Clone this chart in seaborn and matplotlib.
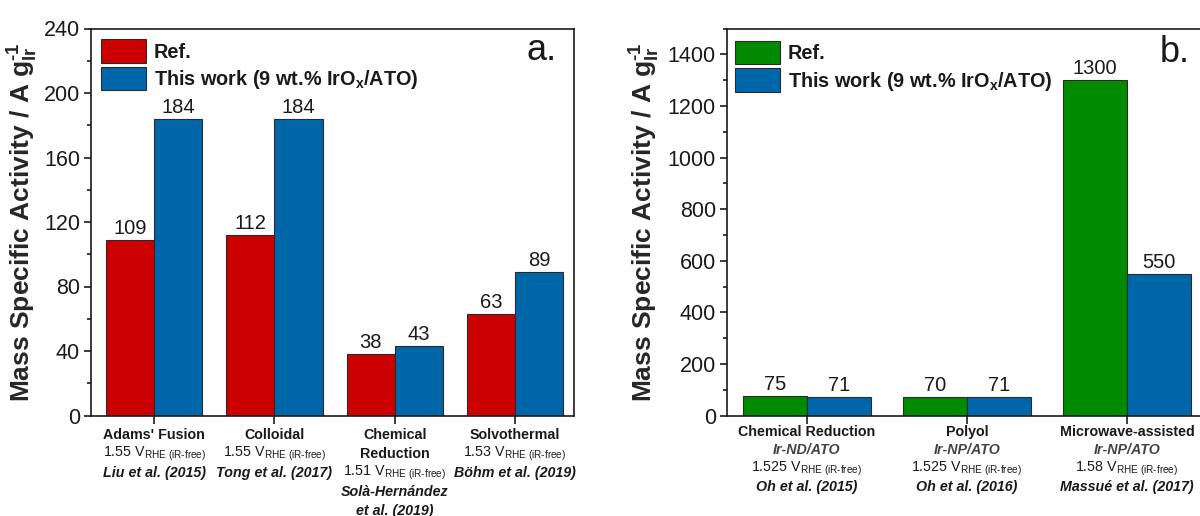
import matplotlib
matplotlib.use("Agg")
import matplotlib.pyplot as plt
import seaborn as sns
import pandas as pd
from matplotlib.patches import Patch
from matplotlib.ticker import MultipleLocator

# ---- panel a: synthesis routes compared with literature values ----
methods_a = ["Adams' Fusion", "Colloidal", "Chemical Reduction", "Solvothermal"]
method_lines_a = [["Adams' Fusion"], ["Colloidal"], ["Chemical", "Reduction"], ["Solvothermal"]]
potential_a = ["1.55", "1.55", "1.51", "1.53"]
authors_a = [["Liu et al. (2015)"], ["Tong et al. (2017)"],
             ["Solà-Hernández", "et al. (2019)"], ["Böhm et al. (2019)"]]
ref_a = [109, 112, 38, 63]
work_a = [184, 184, 43, 89]

# ---- panel b: ATO-supported iridium catalysts ----
methods_b = ["Chemical Reduction", "Polyol", "Microwave-assisted"]
catalysts_b = ["Ir-ND/ATO", "Ir-NP/ATO", "Ir-NP/ATO"]
potential_b = ["1.525", "1.525", "1.58"]
authors_b = ["Oh et al. (2015)", "Oh et al. (2016)", "Massué et al. (2017)"]
ref_b = [75, 70, 1300]
work_b = [71, 71, 550]

series = ["Ref.", "This work (9 wt.% IrO$_\\mathbf{x}$/ATO)"]
ylabel = "Mass Specific Activity / A g$_{\\mathbf{Ir}}^{\\mathbf{\u20101}}$"

RED, GREEN, BLUE = "#CC0000", "#008A00", "#0066AA"
EDGE = "#2a2a2a"
TXT = "#1a1a1a"

sns.set_style("ticks")
plt.rcParams["font.family"] = ["Liberation Sans", "DejaVu Sans"]
plt.rcParams["mathtext.fontset"] = "custom"
plt.rcParams["mathtext.rm"] = "Liberation Sans"
plt.rcParams["mathtext.it"] = "Liberation Sans:italic"
plt.rcParams["mathtext.bf"] = "Liberation Sans:bold"
plt.rcParams["axes.edgecolor"] = TXT
plt.rcParams["text.color"] = TXT


def long_table(methods, ref, work):
    return pd.DataFrame({
        "method": methods * 2,
        "activity": ref + work,
        "series": [series[0]] * len(methods) + [series[1]] * len(methods),
    })


def style_axes(ax, major, minor, top):
    ax.set_ylim(0, top)
    ax.yaxis.set_major_locator(MultipleLocator(major))
    ax.yaxis.set_minor_locator(MultipleLocator(minor))
    ax.tick_params(axis="y", which="major", direction="out", length=5, width=1.2,
                   labelsize=15.5, pad=3, colors=TXT)
    ax.tick_params(axis="y", which="minor", direction="out", length=2.6, width=1.2, colors=TXT)
    ax.tick_params(axis="x", which="major", direction="out", length=5.4, width=1.2,
                   labelbottom=False, colors=TXT)
    ax.tick_params(axis="x", which="minor", bottom=False)
    for s in ax.spines.values():
        s.set_visible(True)
        s.set_linewidth(1.2)
    ax.set_xlabel("")
    ax.set_ylabel(ylabel, fontsize=19, fontweight="bold")


def category_labels(ax, blocks, first_px, step_px):
    for i, block in enumerate(blocks):
        y = first_px
        for text, kw in block:
            ax.annotate(text, xy=(i, 0), xycoords=("data", "axes fraction"),
                        xytext=(0, -y * 0.72), textcoords="offset points",
                        ha="center", va="center", fontsize=10.3, **kw)
            y += step_px


def volt(v):
    return v + " V$_{\\mathregular{RHE\\ (iR\u2010free)}}$"


def legend(ax, color, anchor):
    ax.legend(handles=[Patch(facecolor=color, edgecolor=EDGE, linewidth=0.8, label=series[0]),
                       Patch(facecolor=BLUE, edgecolor=EDGE, linewidth=0.8, label=series[1])],
              loc="upper left", bbox_to_anchor=anchor, frameon=False,
              borderpad=0, borderaxespad=0, handlelength=2.25, handleheight=1.42,
              labelspacing=0.2, handletextpad=0.4,
              prop={"weight": "bold", "size": 14.3})


fig = plt.figure(figsize=(12, 5.16), dpi=100)
bottom, height = 1 - 415.5 / 516, 387 / 516
ax1 = fig.add_axes([91 / 1200, bottom, 483 / 1200, height])
ax2 = fig.add_axes([727 / 1200, bottom, 480 / 1200, height])

# panel a
sns.barplot(data=long_table(methods_a, ref_a, work_a), x="method", y="activity",
            hue="series", order=methods_a, hue_order=series, palette=[RED, BLUE],
            edgecolor=EDGE, linewidth=0.8, saturation=1, legend=False, ax=ax1)
ax1.set_xlim(-0.525, 3.49)
style_axes(ax1, 40, 20, 240)
for cont in ax1.containers:
    ax1.bar_label(cont, fmt="%g", padding=1.5, fontsize=14.5, color=TXT)
legend(ax1, RED, (0.0207, 0.972))
ax1.text(0.932, 0.944, "a.", transform=ax1.transAxes, fontsize=26,
         ha="center", va="center")
ax1.yaxis.set_label_coords(-0.105, 0.5)

blocks_a = []
for lines, v, auth in zip(method_lines_a, potential_a, authors_a):
    blk = [(t, {"fontweight": "bold"}) for t in lines]
    blk.append((volt(v), {}))
    blk += [(t, {"fontweight": "bold", "fontstyle": "italic"}) for t in auth]
    blocks_a.append(blk)
category_labels(ax1, blocks_a, 19.5, 19)

# panel b
sns.barplot(data=long_table(methods_b, ref_b, work_b), x="method", y="activity",
            hue="series", order=methods_b, hue_order=series, palette=[GREEN, BLUE],
            edgecolor=EDGE, linewidth=0.8, saturation=1, legend=False, ax=ax2)
ax2.set_xlim(-0.5, 2.5)
style_axes(ax2, 200, 100, 1500)
for cont in ax2.containers:
    ax2.bar_label(cont, fmt="%g", padding=1.5, fontsize=14.5, color=TXT)
legend(ax2, GREEN, (0.0167, 0.967))
ax2.text(0.933, 0.939, "b.", transform=ax2.transAxes, fontsize=26,
         ha="center", va="center")
ax2.yaxis.set_label_coords(-0.135, 0.5)

blocks_b = []
for m, cat, v, auth in zip(methods_b, catalysts_b, potential_b, authors_b):
    blocks_b.append([
        (m, {"fontweight": "bold"}),
        (cat, {"fontweight": "bold", "fontstyle": "italic", "color": "#444444"}),
        (volt(v), {}),
        (auth, {"fontweight": "bold", "fontstyle": "italic"}),
    ])
category_labels(ax2, blocks_b, 16.5, 18.5)

fig.savefig("out.png", dpi=100)
